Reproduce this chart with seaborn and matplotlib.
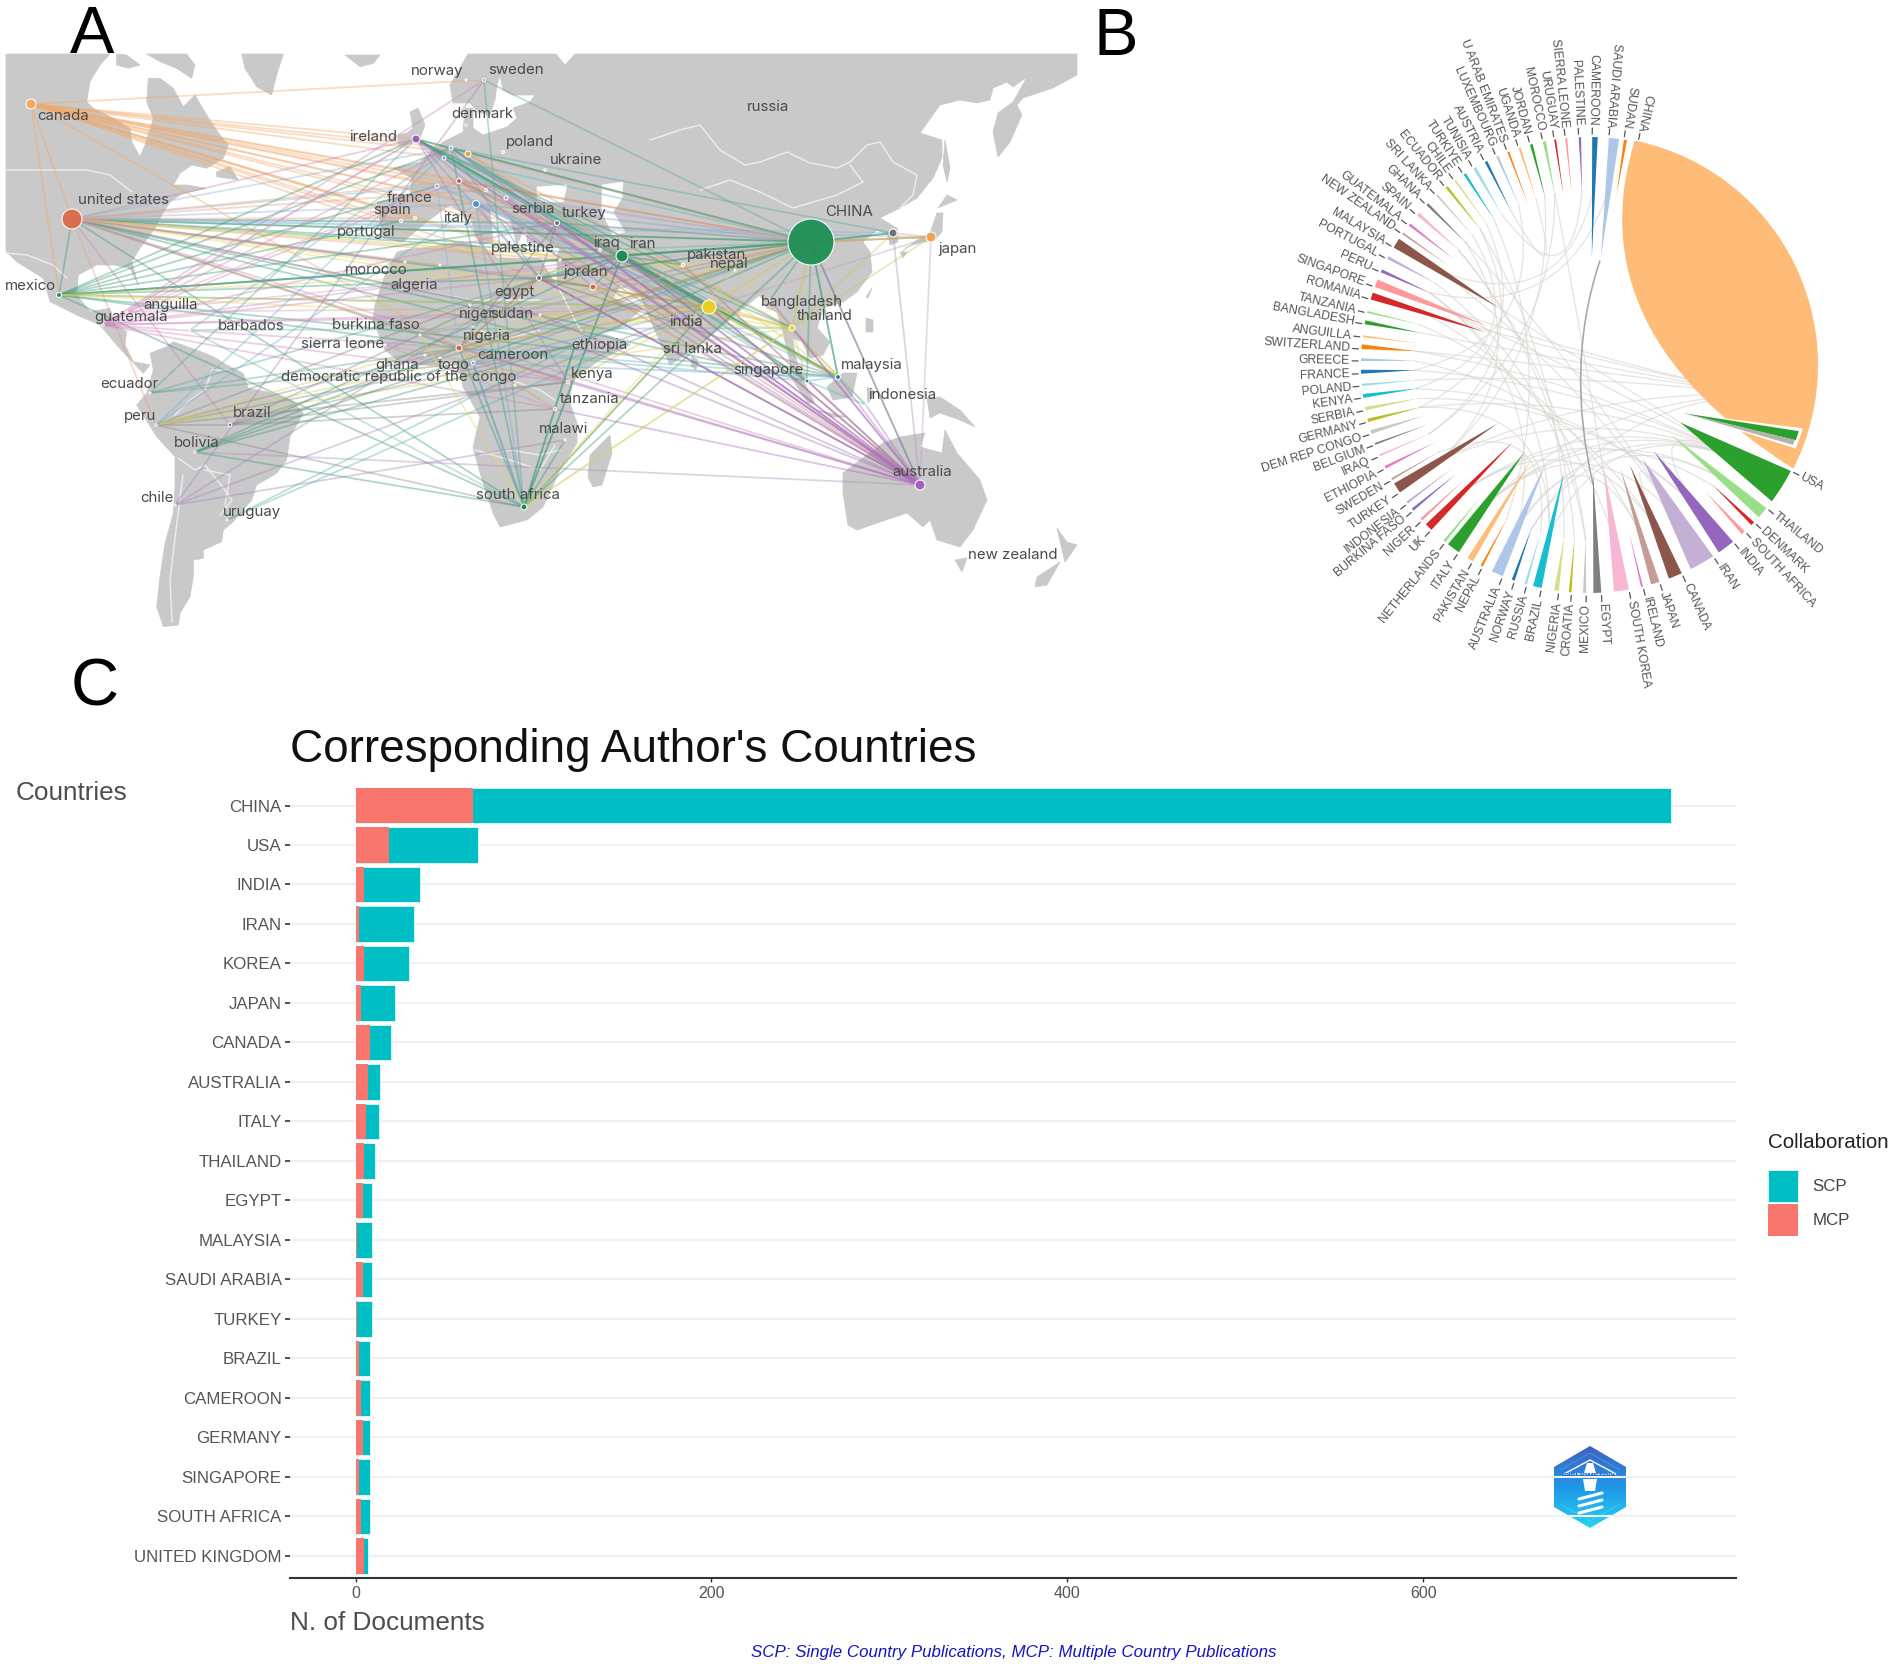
import numpy as np
import pandas as pd
import matplotlib
matplotlib.use("Agg")
import matplotlib.pyplot as plt
import seaborn as sns
from matplotlib.patches import Polygon, PathPatch
from matplotlib.path import Path

# panel C
countries = ["CHINA", "USA", "INDIA", "IRAN", "KOREA", "JAPAN", "CANADA", "AUSTRALIA", "ITALY", "THAILAND",
             "EGYPT", "MALAYSIA", "SAUDI ARABIA", "TURKEY", "BRAZIL", "CAMEROON", "GERMANY", "SINGAPORE",
             "SOUTH AFRICA", "UNITED KINGDOM"]
total_docs = [739, 69, 36, 33, 30, 22, 20, 14, 13, 11, 9, 9, 9, 9, 8, 8, 8, 8, 8, 7]
mcp_docs = [66, 19, 5, 2, 5, 3, 8, 7, 6, 5, 4, 1, 4, 1, 2, 3, 4, 2, 3, 5]

# panel A, nodes
node_names = ["canada", "united states", "mexico", "ireland", "sweden", "norway", "denmark", "poland", "ukraine",
              "germany", "netherlands", "belgium", "switzerland", "france", "italy", "serbia", "greece", "spain",
              "portugal", "turkey", "iran", "iraq", "palestine", "jordan", "egypt", "pakistan", "nepal", "india",
              "bangladesh", "thailand", "china", "korea", "japan", "malaysia", "singapore", "indonesia", "sri lanka",
              "australia", "morocco", "algeria", "niger", "sudan", "nigeria", "burkina faso", "sierra leone", "ghana",
              "togo", "cameroon", "drc", "ethiopia", "kenya", "tanzania", "malawi", "south africa", "ecuador", "peru",
              "brazil", "bolivia", "chile", "uruguay", "guatemala", "anguilla", "barbados"]
node_x = [31, 72, 59, 416, 484, 466, 466, 503, 545, 451, 468, 444, 459, 437, 476, 506, 486, 401, 415, 557, 622, 600,
          560, 593, 539, 683, 735, 709, 770, 792, 811, 893, 931, 838, 807, 866, 700, 920, 405, 440, 470, 540, 459,
          420, 385, 425, 440, 473, 515, 575, 568, 555, 565, 524, 150, 156, 230, 195, 175, 227, 103, 127, 190]
node_y = [104, 219, 295, 139, 80, 80, 125, 152, 170, 148, 154, 158, 181, 186, 204, 198, 190, 221, 218, 223, 256, 250,
          260, 287, 278, 265, 270, 307, 300, 328, 242, 233, 237, 377, 381, 405, 350, 485, 262, 265, 305, 315, 348,
          335, 345, 355, 358, 363, 385, 345, 382, 409, 440, 507, 393, 425, 425, 452, 505, 520, 325, 312, 330]
node_r = [5, 10, 2.5, 4, 1.5, 1, 1.2, 1.5, 1.2, 2, 3, 2, 2.5, 2, 3.5, 2, 1.5, 1.5, 1.5, 2.5, 6, 1.5, 1.2, 3, 2.5, 1.8,
          1, 7, 1, 3, 23, 4, 5, 2.5, 2, 1.2, 1, 5, 1, 1, 1, 1, 3, 1, 1, 1, 1, 1.8, 1, 1, 1.5, 1.5, 1, 3, 1, 1.2, 1.8,
          1.2, 1, 1, 1.2, 1, 1]
node_colors = ["#f5a85a", "#d96b4b", "#1a8a55", "#9b59b6", "#a080c0", "#c8b8a0", "#6fb0d8", "#c8dca8", "#d8d0a8",
               "#7ab8e0", "#f0a050", "#5cb8b0", "#c8504a", "#7ab0e0", "#4a90d9", "#d088c0", "#f0b080", "#a8d0e0",
               "#d8d890", "#6e6e78", "#1a8a55", "#a8c8a0", "#d0b8a8", "#d8604a", "#6e6e78", "#f0e060", "#e0d0a0",
               "#f0d020", "#a0c0a0", "#f0d838", "#1f8f55", "#6e6e6e", "#f5a050", "#108c8c", "#108c8c", "#70c8c8",
               "#80b0c8", "#a45cb8", "#e0d8a0", "#e0d8a0", "#e0c8a8", "#e0c8a8", "#d8604a", "#e0d0a0", "#d8a8d0",
               "#e0d0a0", "#d0d8a0", "#5aa8e0", "#a0a8c0", "#c0d0a0", "#d0b0a0", "#d0a898", "#e0d890", "#1a8a55",
               "#70a890", "#80a090", "#707078", "#50a080", "#9080a8", "#a0c8b0", "#c870b0", "#e0b8c8", "#c0d8d8"]

# panel A, labels
label_names = ["norway", "sweden", "russia", "denmark", "poland", "ukraine", "canada", "ireland", "united states",
               "france", "spain", "italy", "serbia", "turkey", "portugal", "palestine", "iraq", "iran", "pakistan",
               "nepal", "jordan", "morocco", "algeria", "egypt", "CHINA", "japan", "mexico", "anguilla", "guatemala",
               "barbados", "burkina faso", "niger", "sudan", "nigeria", "india", "bangladesh", "thailand",
               "sierra leone", "ethiopia", "sri lanka", "cameroon", "ghana", "togo",
               "democratic republic of the congo", "kenya", "singapore", "malaysia", "indonesia", "tanzania",
               "ecuador", "peru", "brazil", "malawi", "bolivia", "australia", "south africa", "chile", "uruguay",
               "new zealand"]
label_x = [437, 516, 768, 482, 530, 576, 63, 373, 124, 410, 392, 458, 533, 584, 366, 523, 606, 642, 717, 729, 586,
           376, 414, 514, 849, 957, 30, 171, 131, 251, 376, 477, 512, 487, 686, 802, 825, 343, 599, 692, 513, 397,
           454, 399, 592, 768, 872, 902, 590, 129, 140, 252, 564, 197, 922, 518, 157, 252, 1013]
label_y = [71, 70, 107, 114, 142, 160, 116, 137, 200, 198, 210, 218, 209, 213, 232, 248, 243, 244, 255, 264, 272,
           270, 285, 292, 212, 249, 286, 305, 317, 326, 325, 314, 314, 336, 322, 302, 316, 344, 345, 349, 355, 365,
           365, 377, 374, 370, 365, 395, 399, 384, 416, 413, 429, 443, 472, 495, 498, 512, 555]

# panel A, links between countries
link_groups = [
    ("canada", ["ireland", "germany", "netherlands", "belgium", "france", "switzerland", "italy", "serbia", "iran",
                "egypt", "turkey", "india", "china", "thailand", "greece", "jordan", "nigeria", "united states",
                "mexico", "sweden", "spain", "portugal", "pakistan"], "#f4a868"),
    ("united states", ["china", "china", "iran", "iraq", "south africa", "nigeria", "malaysia", "singapore", "turkey",
                       "ethiopia", "jordan", "mexico"], "#3a9a73"),
    ("united states", ["india", "thailand", "pakistan", "nepal", "algeria", "burkina faso"], "#e8d860"),
    ("united states", ["egypt", "australia", "sudan", "kenya", "ireland", "morocco", "brazil"], "#c888b8"),
    ("united states", ["germany", "france", "italy", "spain", "korea", "japan"], "#8ab4d8"),
    ("united states", ["switzerland", "greece", "palestine", "portugal", "peru"], "#e8a080"),
    ("mexico", ["china", "china", "iran", "egypt", "nigeria", "spain", "germany", "france", "ireland", "india",
                "malaysia", "turkey", "south africa"], "#3a9a73"),
    ("mexico", ["thailand", "pakistan", "india"], "#e8d860"),
    ("guatemala", ["ireland", "germany", "egypt", "turkey", "iran", "kenya", "tanzania", "india", "nigeria",
                   "switzerland", "sweden", "sudan"], "#d088c0"),
    ("anguilla", ["ireland", "france", "china", "india"], "#d8a0c0"),
    ("barbados", ["south africa", "thailand", "germany"], "#70b8b0"),
    ("ecuador", ["ireland", "nigeria", "cameroon", "iran"], "#5aa890"),
    ("peru", ["brazil", "nigeria", "ethiopia", "egypt", "south africa", "kenya"], "#8a8a8a"),
    ("peru", ["china", "india", "thailand"], "#d8d060"),
    ("peru", ["italy", "germany"], "#70b0d0"),
    ("brazil", ["tanzania", "kenya", "ethiopia", "china", "egypt"], "#8a8a8a"),
    ("bolivia", ["south africa", "ethiopia", "china", "nigeria", "iran"], "#3a9a73"),
    ("bolivia", ["australia"], "#b090c0"),
    ("chile", ["sweden", "egypt", "malawi", "india"], "#a884b8"),
    ("uruguay", ["india", "ethiopia"], "#60b0a0"),
    ("ireland", ["china", "china", "india", "thailand", "malaysia", "iran", "pakistan", "turkey"], "#3a9a73"),
    ("ireland", ["australia", "egypt", "kenya", "jordan"], "#a884b8"),
    ("germany", ["china", "iran", "india", "malaysia", "korea", "egypt", "singapore"], "#5aa8a0"),
    ("netherlands", ["china", "india", "iran", "thailand"], "#d8a878"),
    ("belgium", ["china", "malaysia", "singapore"], "#5db8b0"),
    ("switzerland", ["china", "india", "australia", "iran"], "#c88070"),
    ("france", ["china", "iran", "india", "nigeria"], "#8ab4d8"),
    ("italy", ["china", "iran", "india", "malaysia", "south africa", "egypt"], "#7aa8c8"),
    ("serbia", ["australia", "india", "china"], "#d8a0c0"),
    ("sweden", ["china", "south africa"], "#5aa890"),
    ("turkey", ["china", "malaysia", "egypt", "india", "nigeria"], "#6e8a78"),
    ("iran", ["china", "china", "india", "thailand", "malaysia", "malaysia", "singapore", "south africa",
              "south africa", "egypt", "jordan", "pakistan"], "#3a9a73"),
    ("iraq", ["malaysia", "china", "egypt"], "#70b090"),
    ("egypt", ["china", "malaysia", "india", "nigeria", "jordan", "jordan", "australia"], "#8a7a80"),
    ("jordan", ["china", "india", "australia"], "#d08070"),
    ("india", ["china", "thailand", "thailand", "malaysia", "malaysia", "australia", "south africa", "nigeria",
               "egypt", "kenya", "sudan"], "#d8c840"),
    ("pakistan", ["china", "australia", "malaysia"], "#d8d060"),
    ("nepal", ["china", "thailand"], "#d8d060"),
    ("thailand", ["china", "china", "malaysia", "singapore", "indonesia", "japan", "korea", "south africa"], "#c8c860"),
    ("china", ["korea", "korea", "japan", "malaysia", "malaysia", "singapore", "bangladesh", "australia",
               "ethiopia", "nigeria", "egypt"], "#3a9a73"),
    ("japan", ["korea", "china", "china"], "#f4a868"),
    ("japan", ["australia", "india"], "#c0a0c8"),
    ("korea", ["australia"], "#b090c0"),
    ("malaysia", ["indonesia", "nigeria", "singapore"], "#5db8b0"),
    ("singapore", ["indonesia", "nigeria"], "#5db8b0"),
    ("australia", ["malaysia", "singapore", "india", "india", "iran", "iran", "egypt", "egypt", "turkey", "turkey",
                   "ireland", "nigeria", "ethiopia", "sri lanka", "indonesia", "china", "pakistan", "germany",
                   "sudan", "kenya", "tanzania", "bangladesh", "thailand", "serbia", "italy"], "#a86cb8"),
    ("south africa", ["nigeria", "ethiopia", "ethiopia", "malawi", "cameroon", "germany", "china", "india"], "#3a9a73"),
    ("south africa", ["burkina faso", "thailand", "nepal"], "#e0d870"),
    ("nigeria", ["kenya", "china", "india", "cameroon", "ghana", "egypt", "tanzania"], "#d8a060"),
    ("cameroon", ["india", "malaysia", "south africa", "china"], "#70a8d0"),
    ("sierra leone", ["china", "kenya", "tanzania"], "#c898c0"),
    ("burkina faso", ["china", "egypt", "jordan"], "#a0b890"),
]

# panel A, land outlines
north_america = [(18, 27), (330, 27), (300, 60), (270, 110), (260, 170), (280, 190), (340, 220), (390, 250), (395, 290),
                 (420, 335), (435, 300), (460, 220), (440, 170), (445, 100), (480, 100), (520, 130), (550, 185),
                 (585, 150), (620, 210), (660, 270), (685, 300), (670, 340), (620, 370), (575, 360), (540, 385),
                 (520, 420), (560, 420), (620, 430), (550, 445), (510, 470), (480, 520), (465, 550), (420, 610),
                 (395, 650), (415, 720), (390, 670), (340, 660), (290, 660), (235, 690), (230, 750), (270, 800),
                 (330, 790), (345, 840), (380, 860), (375, 900), (400, 950), (450, 960), (430, 985), (350, 900),
                 (300, 840), (230, 810), (150, 770), (130, 700), (50, 650), (18, 620)]
greenland = [(725, 27), (850, 27), (830, 90), (815, 150), (770, 125), (735, 70)]
baffin = [(440, 27), (560, 27), (585, 60), (575, 100), (530, 70), (480, 50)]
arctic_isle = [(350, 27), (380, 30), (420, 60), (385, 70), (350, 60)]
svalbard = [(1035, 30), (1140, 30), (1120, 55), (1080, 65)]
newfoundland = [(650, 380), (690, 365), (715, 405), (650, 395)]
south_america = [(450, 70), (500, 50), (520, 35), (590, 60), (640, 80), (680, 105), (730, 130), (745, 175), (800, 185),
                 (880, 215), (910, 250), (870, 320), (860, 390), (830, 430), (770, 465), (755, 510), (700, 575),
                 (670, 600), (665, 635), (610, 660), (610, 685), (580, 690), (580, 740), (570, 800), (540, 850),
                 (535, 885), (490, 890), (470, 830), (480, 740), (495, 640), (520, 550), (525, 470), (525, 380),
                 (470, 320), (410, 225), (440, 190), (460, 120)]
eurasia = [(468, 54), (556, 54), (565, 65), (575, 54), (1077, 54), (1077, 75), (1053, 88), (1023, 98), (1017, 105),
           (1022, 115), (1010, 142), (998, 157), (993, 132), (998, 113), (1013, 102), (1027, 77), (1013, 87),
           (1007, 82), (993, 88), (990, 100), (977, 103), (960, 100), (940, 105), (920, 133), (942, 140), (942, 158),
           (933, 178), (917, 198), (900, 208), (880, 218), (897, 228), (898, 242), (890, 245), (888, 235), (877, 230),
           (863, 242), (870, 252), (872, 272), (857, 292), (843, 302), (823, 308), (817, 328), (830, 342), (823, 355),
           (810, 358), (802, 342), (793, 338), (795, 355), (803, 380), (793, 373), (787, 350), (783, 332), (777, 312),
           (767, 308), (760, 295), (747, 305), (727, 322), (700, 345), (670, 365), (657, 335), (647, 312), (640, 295),
           (620, 285), (613, 298), (643, 308), (620, 328), (587, 337), (577, 322), (562, 292), (557, 285), (557, 258),
           (560, 248), (527, 242), (527, 222), (517, 245), (510, 218), (490, 208), (493, 242), (480, 245), (470, 218),
           (450, 205), (440, 212), (423, 225), (403, 242), (383, 238), (377, 202), (410, 195), (412, 178), (393, 168),
           (420, 162), (443, 142), (463, 132), (465, 108), (473, 108), (473, 128), (483, 135), (507, 127), (517, 118),
           (513, 108), (530, 102), (535, 95), (513, 95), (503, 90), (500, 75), (497, 85), (495, 100), (490, 115),
           (478, 112), (470, 103), (453, 103), (450, 85)]
africa = [(557, 287), (540, 258), (497, 258), (485, 248), (460, 242), (430, 247), (405, 250), (397, 252), (385, 275),
          (375, 305), (373, 320), (385, 350), (400, 362), (430, 365), (458, 362), (462, 380), (463, 387), (480, 417),
          (473, 447), (480, 473), (493, 513), (500, 527), (527, 520), (543, 507), (560, 470), (577, 443), (577, 423),
          (570, 403), (572, 380), (600, 360), (630, 345), (607, 335), (580, 332)]
great_britain = [(410, 112), (418, 108), (425, 125), (420, 138), (400, 145), (398, 141), (413, 128)]
eire = [(398, 135), (408, 133), (407, 145), (398, 145)]
madagascar = [(610, 435), (612, 453), (602, 485), (593, 487), (588, 477), (590, 455)]
sri_lanka = [(692, 356), (698, 360), (696, 370), (691, 366)]
black_sea = [(537, 187), (567, 185), (563, 202), (537, 202)]
caspian = [(602, 185), (623, 182), (622, 198), (613, 212), (625, 232), (613, 235), (602, 212)]
east_med = [(490, 243), (557, 250), (556, 258), (497, 257)]
sakhalin = [(945, 140), (950, 168), (947, 182), (943, 165)]
hokkaido = [(938, 208), (947, 195), (957, 200), (945, 205)]
honshu = [(937, 213), (943, 213), (942, 232), (935, 240), (920, 243), (907, 247), (902, 252), (917, 240), (930, 233)]
kyushu = [(900, 252), (907, 252), (903, 258)]
hainan = [(866, 297), (872, 288), (868, 298)]
philippines = [(866, 318), (873, 320), (873, 332), (866, 332)]
borneo = [(827, 387), (843, 373), (857, 373), (852, 397), (833, 400)]
sumatra = [(788, 373), (803, 380), (815, 403), (808, 403)]
java = [(817, 410), (847, 417), (833, 417)]
sulawesi = [(867, 387), (875, 392), (868, 403)]
new_guinea = [(927, 398), (940, 397), (960, 410), (975, 427), (960, 420), (940, 413), (930, 418)]
australia_land = [(843, 473), (883, 443), (900, 437), (925, 433), (920, 447), (942, 453), (945, 430), (957, 453),
                  (980, 480), (987, 500), (973, 530), (960, 547), (937, 540), (930, 520), (923, 527), (907, 513),
                  (877, 523), (857, 530), (848, 525), (843, 493)]
tasmania = [(955, 560), (967, 558), (962, 572)]
nz_north = [(1057, 528), (1067, 542), (1077, 545), (1065, 562), (1062, 550)]
nz_south = [(1060, 562), (1047, 585), (1035, 587), (1037, 577)]

border_lines = [
    [(6, 170), (87, 170), (110, 175), (132, 192)],
    [(6, 253), (27, 255), (53, 265), (67, 278)],
    [(760, 162), (787, 152), (810, 163), (837, 168), (850, 162), (867, 145), (880, 142), (893, 162), (917, 175),
     (913, 195), (900, 208)],
    [(850, 165), (863, 182), (837, 195), (793, 208), (760, 192)],
    [(650, 140), (680, 130), (700, 125), (720, 150), (745, 165), (760, 162)],
    [(700, 190), (730, 180), (760, 192)],
    [(175, 415), (190, 400), (205, 390), (212, 370), (230, 370)],
    [(178, 458), (195, 470), (205, 465), (225, 490), (232, 500), (220, 515)],
    [(183, 475), (176, 530), (170, 580), (172, 622)],
    [(205, 470), (230, 475), (225, 505)],
    [(480, 455), (510, 450), (540, 455), (560, 450)],
    [(475, 450), (510, 460), (540, 470), (555, 445)],
    [(510, 380), (540, 390), (555, 400)],
    [(420, 290), (470, 300), (510, 300), (540, 300)],
    [(440, 330), (470, 325), (500, 340), (540, 330)],
]

# panel B
chord_names = ["CHINA", "USA", "THAILAND", "DENMARK", "SOUTH AFRICA", "INDIA", "IRAN", "CANADA", "JAPAN", "IRELAND",
               "SOUTH KOREA", "EGYPT", "MEXICO", "CROATIA", "NIGERIA", "BRAZIL", "RUSSIA", "NORWAY", "AUSTRALIA",
               "NEPAL", "PAKISTAN", "ITALY", "NETHERLANDS", "UK", "NIGER", "BURKINA FASO", "INDONESIA", "TURKEY",
               "SWEDEN", "ETHIOPIA", "IRAQ", "BELGIUM", "DEM REP CONGO", "GERMANY", "SERBIA", "KENYA", "POLAND",
               "FRANCE", "GREECE", "SWITZERLAND", "ANGUILLA", "BANGLADESH", "TANZANIA", "ROMANIA", "SINGAPORE",
               "PERU", "PORTUGAL", "MALAYSIA", "NEW ZEALAND", "GUATEMALA", "SPAIN", "GHANA", "SRI LANKA", "ECUADOR",
               "CHILE", "TURKIYE", "TUNISIA", "AUSTRIA", "LUXEMBOURG", "U ARAB EMIRATES", "UGANDA", "JORDAN",
               "MOROCCO", "URUGUAY", "SIERRA LEONE", "PALESTINE", "CAMEROON", "SAUDI ARABIA", "SUDAN"]
chord_angle = [12.4, 117.7, 128.9, 133.6, 136.9, 140.8, 147, 156, 162, 166.3, 169.9, 176.9, 180.7, 184.4, 187.6, 192,
               195.8, 199, 202.2, 207.8, 210.6, 214.8, 219, 223.7, 227, 230.3, 232.6, 236, 239.7, 243, 246.4, 249.5,
               252.4, 255.5, 258.5, 261.7, 264.7, 267.8, 271, 274, 277, 280.3, 283.2, 286.7, 290, 294, 297.7, 301,
               305, 307.7, 311, 314.5, 317.9, 321, 323.8, 326.6, 329.5, 332.8, 336, 339, 342, 345, 348.3, 351.2, 354,
               357.4, 0.8, 5, 8.8]
chord_width = [102, 9.0, 3.0, 1.0, 1.0, 4.5, 6.5, 3.5, 2.2, 0.5, 3.8, 2.0, 0.8, 0.7, 1.2, 2.2, 0.6, 0.8, 3.0, 0.6, 1.6,
               3.4, 0.7, 2.0, 0.7, 0.7, 0.6, 2.7, 0.5, 0.7, 0.5, 0.5, 1.0, 0.9, 0.9, 1.0, 0.6, 1.0, 0.7, 1.2, 0.5, 1.0,
               0.5, 1.8, 2.0, 0.8, 0.8, 2.6, 0.5, 0.7, 0.9, 0.7, 0.5, 0.7, 0.5, 0.7, 0.8, 0.7, 0.6, 0.5, 0.6, 0.7, 0.8,
               0.5, 0.5, 0.6, 1.4, 2.6, 0.8]
# the last three sectors restart the palette
chord_palette_override = {"CAMEROON": 0, "SAUDI ARABIA": 1, "SUDAN": 2}
chord_links = [("USA", "MALAYSIA"), ("USA", "INDIA"), ("USA", "ITALY"), ("USA", "UK"), ("USA", "GERMANY"),
               ("USA", "FRANCE"), ("USA", "SWITZERLAND"), ("USA", "SINGAPORE"), ("USA", "TURKEY"), ("USA", "BRAZIL"),
               ("CHINA", "SWITZERLAND"), ("CHINA", "ROMANIA"),
               ("CHINA", "SINGAPORE"), ("CHINA", "POLAND"), ("CHINA", "BANGLADESH"), ("CHINA", "TURKEY"),
               ("CHINA", "ITALY"), ("CHINA", "NORWAY"), ("ITALY", "THAILAND"), ("ITALY", "IRAN"), ("UK", "DENMARK"),
               ("UK", "CANADA"), ("AUSTRALIA", "USA"), ("AUSTRALIA", "PERU"), ("AUSTRALIA", "JAPAN"),
               ("IRAN", "MALAYSIA"), ("IRAN", "CANADA"), ("IRAN", "GHANA"), ("INDIA", "KENYA"), ("INDIA", "SERBIA"),
               ("CANADA", "GREECE"), ("BRAZIL", "PERU"), ("BRAZIL", "GERMANY"), ("NIGERIA", "ECUADOR"),
               ("CROATIA", "SPAIN"), ("SOUTH KOREA", "ROMANIA"), ("SOUTH KOREA", "MOROCCO"), ("JAPAN", "TANZANIA"),
               ("TURKEY", "GHANA"), ("TURKEY", "JORDAN"), ("CAMEROON", "MALAYSIA"), ("SAUDI ARABIA", "PERU"),
               ("PALESTINE", "TUNISIA"), ("UGANDA", "AUSTRIA"), ("ECUADOR", "IRAQ"), ("FRANCE", "LUXEMBOURG"),
               ("GERMANY", "CHILE"), ("KENYA", "SRI LANKA"), ("MOROCCO", "IRAQ"), ("NEPAL", "TURKIYE"),
               ("SPAIN", "MEXICO"), ("MEXICO", "PORTUGAL"), ("RUSSIA", "SWEDEN"), ("THAILAND", "NORWAY")]

FIG_W, FIG_H = 1902, 1670
sns.set_theme(style="white")
plt.rcParams["font.family"] = ["Liberation Sans", "DejaVu Sans"]

fig = plt.figure(figsize=(FIG_W / 100, FIG_H / 100), dpi=100, facecolor="white")
canvas = fig.add_axes([0, 0, 1, 1], zorder=0)


def local(points, ox, oy):
    return [(ox + x / 3, oy + y / 3) for x, y in points]


LAND = "#c9c9c9"
land_shapes = [local(north_america, 0, 45), local(greenland, 0, 45), local(baffin, 0, 45), local(arctic_isle, 0, 45),
               local(svalbard, 0, 45), local(newfoundland, 0, 45), local(south_america, 0, 330), eurasia, africa,
               great_britain, eire, madagascar, sri_lanka, sakhalin, hokkaido, honshu, kyushu, hainan, philippines,
               borneo, sumatra, java, sulawesi, new_guinea, australia_land, tasmania, nz_north, nz_south]
for shape in land_shapes:
    canvas.add_patch(Polygon(shape, closed=True, fc=LAND, ec=LAND, lw=0.5, zorder=1))
for shape in [black_sea, caspian, east_med]:
    canvas.add_patch(Polygon(shape, closed=True, fc="white", ec="white", lw=0.5, zorder=1.1))
for line in border_lines:
    xs, ys = zip(*line)
    canvas.plot(xs, ys, color="#ebebeb", lw=1.1, zorder=1.2)

pos = dict(zip(node_names, zip(node_x, node_y)))
for src, targets, col in link_groups:
    for dst in targets:
        canvas.plot([pos[src][0], pos[dst][0]], [pos[src][1], pos[dst][1]], color=col, lw=1.3, alpha=0.4,
                    solid_capstyle="round", zorder=2)

nodes = pd.DataFrame({"name": node_names, "x": node_x, "y": node_y})
sns.scatterplot(data=nodes, x="x", y="y", hue="name", palette=dict(zip(node_names, node_colors)), size="name",
                sizes={n: (2 * r * 0.72) ** 2 for n, r in zip(node_names, node_r)}, edgecolor="white", linewidth=0.8,
                alpha=0.95, legend=False, ax=canvas, zorder=3)
for name, x, y in zip(label_names, label_x, label_y):
    canvas.text(x, y, name, ha="center", va="center", fontsize=10.8, color="#4a4a4a", family="Inter", zorder=4)

# chord diagram
CX, CY = 1589, 365
R_OUT = 229
tab20 = sns.color_palette("tab20")


def polar(angle, r):
    a = np.radians(angle)
    return CX + r * np.sin(a), CY - r * np.cos(a)


def arc(start, stop, r):
    return [polar(a, r) for a in np.linspace(start, stop, max(3, int(abs(stop - start) * 2)))]


starts = dict(zip(chord_names, chord_angle))
widths = dict(zip(chord_names, chord_width))
for a, b in chord_links:
    ma = 100 if a == "CHINA" else starts[a] + widths[a] / 2
    mb = 100 if b == "CHINA" else starts[b] + widths[b] / 2
    p0, p2 = polar(ma, 175), polar(mb, 175)
    # pull each ribbon toward the centre, less when it already crosses it
    ctrl = (CX + 0.35 * ((p0[0] + p2[0]) / 2 - CX), CY + 0.35 * ((p0[1] + p2[1]) / 2 - CY))
    canvas.add_patch(PathPatch(Path([p0, ctrl, p2], [Path.MOVETO, Path.CURVE3, Path.CURVE3]), fc="none",
                               ec="#d6d2ce", lw=0.9, alpha=0.6, zorder=5))
# the one long grey ribbon between Egypt and Saudi Arabia
canvas.add_patch(PathPatch(Path([polar(178, 120), (CX - 24, CY), polar(6, 105)],
                                [Path.MOVETO, Path.CURVE3, Path.CURVE3]), fc="none", ec="#a8a8a8", lw=1.2, zorder=5.2))

for i, (name, ang, w) in enumerate(zip(chord_names, chord_angle, chord_width)):
    col = tab20[chord_palette_override.get(name, (3 + i) % 20)]
    if name == "CHINA":
        outer = arc(ang - 0.9, ang - 0.9 + w + 3.4, R_OUT)
        verts = outer + [(1576, 331), outer[0]]
        codes = [Path.MOVETO] + [Path.LINETO] * (len(outer) - 1) + [Path.CURVE3, Path.CURVE3]
        canvas.add_patch(PathPatch(Path(verts, codes), fc=col, ec="none", zorder=6))
    else:
        tip = polar(ang + w / 2, 108 if w >= 1.4 else 172)
        canvas.add_patch(Polygon(arc(ang, ang + w, R_OUT - 1) + [tip], closed=True, fc=col, ec="none", zorder=6.5))
    t0, t1 = polar(ang, R_OUT + 2), polar(ang, R_OUT + 8)
    canvas.plot([t0[0], t1[0]], [t0[1], t1[1]], color="#555555", lw=0.9, zorder=6)
    lx, ly = polar(ang, R_OUT + 10)
    flip = not 15 < ang < 180
    canvas.text(lx, ly, name, fontsize=8.7, color="#555555", rotation=(270 - ang) if flip else (90 - ang),
                rotation_mode="anchor", ha="right" if flip else "left", va="center", zorder=7)

# slivers of the USA ribbon at the end of the China sector
usa_tip = polar(117, 106)
canvas.add_patch(Polygon(arc(106.5, 112, R_OUT - 6) + [usa_tip], closed=True, fc="white", ec="none", zorder=6.8))
canvas.add_patch(Polygon(arc(107.5, 110, R_OUT - 9) + [usa_tip], closed=True, fc=tab20[4], ec="none", zorder=6.9))
canvas.add_patch(Polygon(arc(110, 111.4, R_OUT - 10) + [usa_tip], closed=True, fc="#b5b0a8", ec="none", zorder=6.9))

# panel letters and logo live on the canvas too
canvas.text(92, 36, "A", fontsize=48, color="black", ha="center", va="center")
canvas.text(1116, 38, "B", fontsize=48, color="black", ha="center", va="center")
canvas.text(95, 689, "C", fontsize=48, color="black", ha="center", va="center")
canvas.text(16, 793, "Countries", fontsize=18.8, color="#4d4d4d", ha="left", va="center")
canvas.text(1014, 1652, "SCP: Single Country Publications, MCP: Multiple Country Publications", fontsize=12.2,
            style="italic", color="#1414c8", ha="center", va="center")

LOGO_X, LOGO_Y = 1590, 1487
hex_outer = [(LOGO_X + dx, LOGO_Y + dy) for dx, dy in [(0, -41), (36, -20), (36, 20), (0, 41), (-36, 20), (-36, -20)]]
hex_inner = [(LOGO_X + dx, LOGO_Y + dy) for dx, dy in [(0, -34), (30, -17), (30, 17), (0, 34), (-30, 17), (-30, -17)]]
shade = np.linspace(0, 1, 90)[:, None]
for hexagon, z in [(hex_outer, 8), (hex_inner, 8.2)]:
    img = canvas.imshow(shade, cmap=sns.blend_palette(["#4060c0", "#1f96e8", "#25d5f0"], as_cmap=True), aspect="auto",
                        extent=(LOGO_X - 37, LOGO_X + 37, LOGO_Y + 42, LOGO_Y - 42), zorder=z)
    img.set_clip_path(Polygon(hexagon, closed=True, transform=canvas.transData))
    if z == 8:
        canvas.add_patch(Polygon(hex_inner, closed=True, fc="white", ec="none", zorder=8.1))
# tower, lamp and spiral in white
canvas.add_patch(Polygon([(LOGO_X - 7, LOGO_Y - 8), (LOGO_X + 7, LOGO_Y - 8), (LOGO_X + 5, LOGO_Y + 4),
                          (LOGO_X - 5, LOGO_Y + 4)], closed=True, fc="white", ec="none", zorder=8.3))
canvas.add_patch(Polygon([(LOGO_X - 3, LOGO_Y - 24), (LOGO_X + 3, LOGO_Y - 24), (LOGO_X + 6, LOGO_Y - 14),
                          (LOGO_X - 6, LOGO_Y - 14)], closed=True, fc="white", ec="none", zorder=8.3))
canvas.add_patch(Polygon([(LOGO_X - 26, LOGO_Y - 13), (LOGO_X, LOGO_Y - 27), (LOGO_X + 26, LOGO_Y - 13)], closed=True,
                         fc="none", ec="white", lw=1.0, zorder=8.3))
for offset in [6, 13, 20]:
    canvas.plot([LOGO_X - 11, LOGO_X + 12], [LOGO_Y + offset + 6, LOGO_Y + offset], color="white", lw=2.2, zorder=8.3)
canvas.text(LOGO_X, LOGO_Y - 11, "BIBLIOMETRIX", fontsize=5.2, fontweight="bold", color="#1c5fc4", ha="center",
            va="center", zorder=8.5)

canvas.set_xlim(0, FIG_W)
canvas.set_ylim(FIG_H, 0)
canvas.set_xlabel("")
canvas.set_ylabel("")
canvas.axis("off")

# bars
bar_ax = fig.add_axes([290 / FIG_W, 1 - 1578 / FIG_H, (1736 - 290) / FIG_W, (1578 - 783) / FIG_H], zorder=1)
bar_ax.patch.set_alpha(0)
docs = pd.DataFrame({"Country": countries, "SCP": total_docs, "MCP": mcp_docs})
sns.barplot(data=docs, x="SCP", y="Country", color="#00BFC4", width=0.9, saturation=1, edgecolor="#e8f8f8",
            linewidth=0.6, label="SCP", ax=bar_ax, zorder=2)
sns.barplot(data=docs, x="MCP", y="Country", color="#F8766D", width=0.9, saturation=1, edgecolor="none", label="MCP",
            ax=bar_ax, zorder=3)

bar_ax.set_xlim(-36.8, 775.6)
bar_ax.set_ylim(19.56, -0.57)
bar_ax.set_xticks([0, 200, 400, 600])
bar_ax.grid(axis="y", color="#f0f0f0", lw=1.5, zorder=0)
bar_ax.grid(axis="x", visible=False)
bar_ax.set_axisbelow(True)
sns.despine(ax=bar_ax, left=True, top=True, right=True)
bar_ax.spines["bottom"].set_color("#333333")
bar_ax.spines["bottom"].set_linewidth(1.5)
bar_ax.tick_params(axis="y", left=True, length=3.5, width=1.2, color="#333333", labelsize=12.2, labelcolor="#555555",
                   pad=2.5)
bar_ax.tick_params(axis="x", bottom=True, length=3, width=1, color="#333333", labelsize=11.5, labelcolor="#555555",
                   pad=3)
bar_ax.set_ylabel("")
bar_ax.set_xlabel("N. of Documents", loc="left", fontsize=18.8, color="#4d4d4d", labelpad=7)
bar_ax.set_title("Corresponding Author's Countries", loc="left", fontsize=33, color="#111111", pad=15)

leg = bar_ax.legend(title="Collaboration", loc="upper left", bbox_to_anchor=(1768 / FIG_W, 1 - 1133 / FIG_H),
                    bbox_transform=fig.transFigure, frameon=False, fontsize=12.2, title_fontsize=14.8,
                    handlelength=1.78, handleheight=2.55, labelspacing=0.08, handletextpad=0.85, alignment="left",
                    borderpad=0, borderaxespad=0)
leg.get_title().set_color("#222222")
leg._legend_box.sep = 13
for text in leg.get_texts():
    text.set_color("#444444")

fig.savefig("out.png", dpi=100, facecolor="white")
